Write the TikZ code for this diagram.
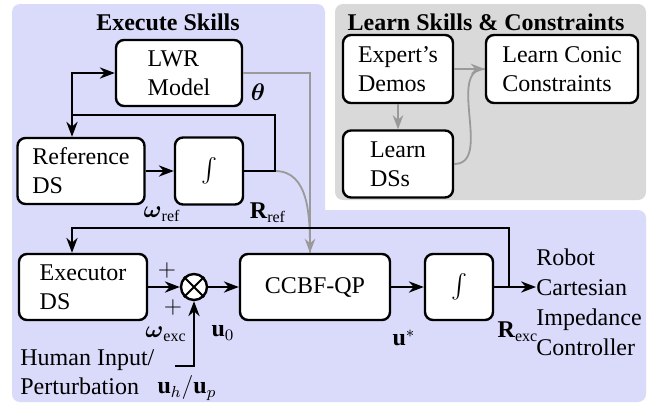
\documentclass[tikz,border=0pt,12pt]{standalone}
\usepackage{amsmath,amssymb}
\usepackage{fontspec}
\setmainfont{Liberation Serif}
\usetikzlibrary{arrows.meta,positioning,calc}
\definecolor{PanelBlue}{HTML}{DADAFA}
\definecolor{PanelGray}{HTML}{D9D9D9}
\definecolor{LinkGray}{HTML}{9A9A9A}
\tikzset{>=Stealth,every node/.style={font=\normalsize},block/.style={draw,line width=1.2pt,
 fill=white,rounded corners=4pt,align=left,inner sep=3pt},sumnode/.style={circle,draw,
 line width=1.2pt,fill=white,minimum size=13pt,inner sep=0pt},link/.style={line width=1pt},
 learnlink/.style={draw=LinkGray,line width=0.9pt}}

\begin{document}
\begin{tikzpicture}[x=0.5pt,y=-0.5pt]
\useasboundingbox (0,0) rectangle (662,407);
% panels
\fill[PanelBlue,rounded corners=4pt] (12,4) rectangle (325,230);
\fill[PanelBlue,rounded corners=4pt] (12,210) rectangle (646,402);
\fill[PanelGray,rounded corners=4pt] (335,4) rectangle (646,200);
\node[font=\bfseries] (exectitle) at (168,22) {Execute Skills};
\node[font=\bfseries] (learntitle) at (486,22) {Learn Skills \& Constraints};
% blocks
\node[block,minimum width=63pt,minimum height=33pt] (lwr) at (179,73) {LWR\\Model};
\node[block,minimum width=63.5pt,minimum height=33pt] (refds) at (81,171) {Reference\\DS};
\node[block,minimum width=34pt,minimum height=33.5pt] (intref) at (209,171) {$\int$};
\node[block,minimum width=55pt,minimum height=34pt] (demos) at (398,69) {Expert's\\Demos};
\node[block,minimum width=76pt,minimum height=34pt] (conic) at (562,69) {Learn Conic\\Constraints};
\node[block,minimum width=55pt,minimum height=33.5pt] (learnds) at (398,164) {Learn\\DSs};
\node[block,minimum width=64pt,minimum height=33pt] (execds) at (83,287) {Executor\\DS};
\node[sumnode] (sum) at (194,287) {};
\node[block,minimum width=75pt,minimum height=33pt] (qp) at (315,287) {CCBF-QP};
\node[block,minimum width=34pt,minimum height=33pt] (intexc) at (459,287) {$\int$};
\node[align=left,anchor=west,inner sep=0pt,font={\fontsize{12}{15}\selectfont}] (robot)
 at (536,302) {Robot\\Cartesian\\Impedance\\Controller};
\node[align=left,anchor=west,inner sep=0pt] (human) at (20,372) {Human Input/\\Perturbation};
\coordinate (rtap) at (275,171);
\coordinate (rloop) at (72,115);
\coordinate (etap) at (509,287);
\coordinate (hin) at (175,366);
% learning links
\draw[learnlink,->] (demos) -- (conic);
\draw[learnlink,->] (demos) -- (learnds);
\draw[learnlink] (learnds.east) to[out=0,in=180] (conic.west);
\draw[learnlink,->] (lwr.east) -| ([xshift=-2.5pt]qp.north);
\draw[learnlink] (rtap) to[out=0,in=90] ([xshift=-2.5pt]qp.north);
% signal links
\draw[link,<->] (lwr.west) -| ([xshift=-4.5pt]refds.north);
\draw[link,->] (refds) -- (intref);
\draw[link] (intref.east) -- (rtap) |- (rloop);
\draw[link,->] (execds) -- (sum);
\draw[link,->] (sum) -- (qp);
\draw[link,->] (qp) -- (intexc);
\draw[link,->] (intexc.east) -- (intexc.east -| robot.west);
\draw[link,->] (etap) -- ++(0,-59) -| ([xshift=-5.5pt]execds.north);
\draw[link,->] (hin) -| (sum.south);
\draw[link] (sum.45) -- (sum.225) (sum.135) -- (sum.315);
% signal labels
\node (theta) at (258,92) {$\boldsymbol{\theta}$};
\node (wref) at (162,214) {$\boldsymbol{\omega}_{\mathrm{ref}}$};
\node (rref) at (268,213) {$\mathbf{R}_{\mathrm{ref}}$};
\node (plusa) at (167,270) {$+$};
\node (plusb) at (173,307) {$+$};
\node (wexc) at (166,334) {$\boldsymbol{\omega}_{\mathrm{exc}}$};
\node (uzero) at (223,333) {$\mathbf{u}_0$};
\node (uhp) at (187,388) {$\mathbf{u}_h/\mathbf{u}_p$};
\node (ustar) at (404,338) {$\mathbf{u}^*$};
\node (rexc) at (518,332) {$\mathbf{R}_{\mathrm{exc}}$};
\end{tikzpicture}
\end{document}
